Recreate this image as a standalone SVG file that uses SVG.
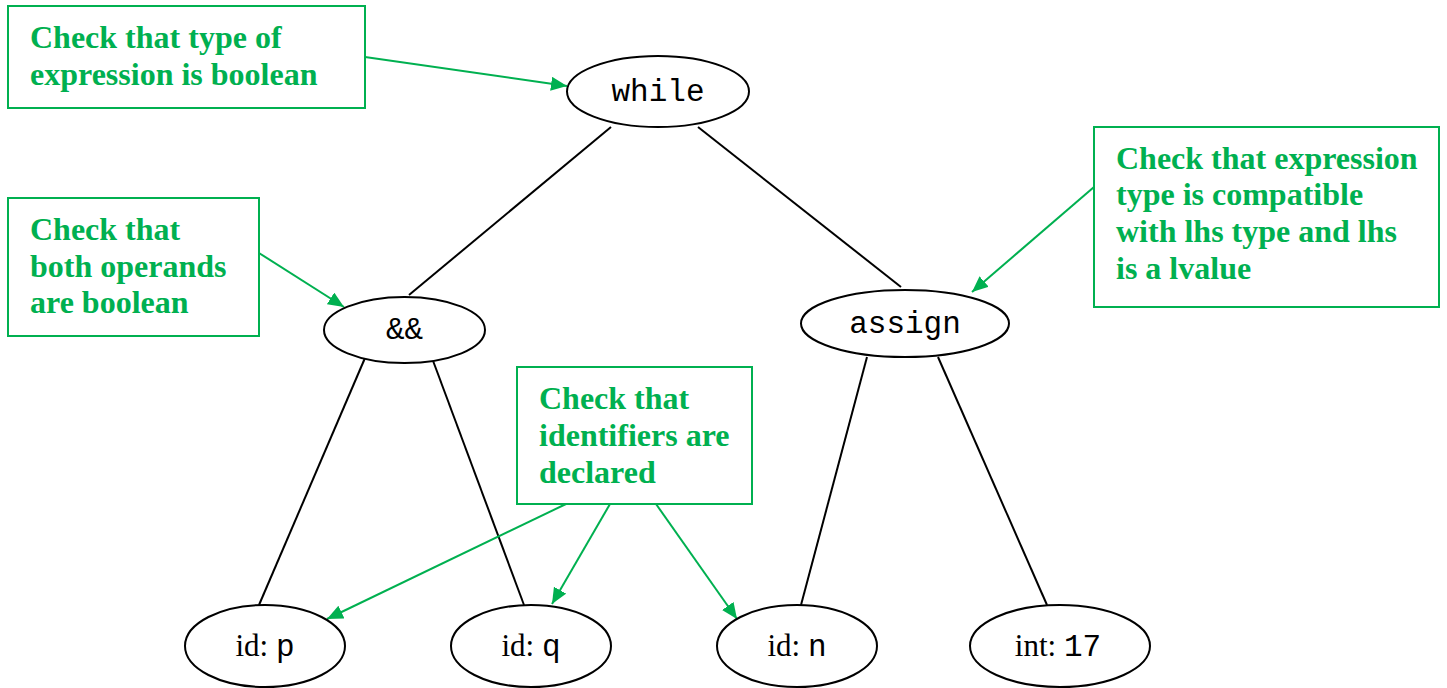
<svg xmlns="http://www.w3.org/2000/svg" width="1447" height="688" viewBox="0 0 1447 688">
<style>
.node ellipse{fill:#fff;stroke:#000;stroke-width:2}
.mono{font-family:"Liberation Mono","Courier New",monospace;font-size:31px;fill:#000}
.serif{font-family:"Liberation Serif","Times New Roman",serif;font-size:31px;fill:#000}
.note rect{fill:#fff;stroke:#00B050;stroke-width:2}
.note text{font-family:"Liberation Serif","Times New Roman",serif;font-size:32px;font-weight:bold;fill:#00B050}
.edge{stroke:#000;stroke-width:2;fill:none}
.arrow{stroke:#00B050;stroke-width:2;fill:none;marker-end:url(#ah)}
</style>
<defs>
<marker id="ah" viewBox="0 0 16 14" refX="16" refY="7" markerWidth="16" markerHeight="14" markerUnits="userSpaceOnUse" orient="auto"><path d="M0,0 L16,7 L0,14 z" fill="#00B050"/></marker>
</defs>
<rect width="1447" height="688" fill="#fff"/>
<g id="connectors">
<line class="edge" x1="611" y1="127" x2="409" y2="295"/>
<line class="edge" x1="698" y1="127" x2="901" y2="287"/>
<line class="edge" x1="365" y1="358" x2="259" y2="605"/>
<line class="edge" x1="432" y1="358" x2="524" y2="605"/>
<line class="edge" x1="867" y1="357" x2="801" y2="605"/>
<line class="edge" x1="938" y1="357" x2="1047" y2="605"/>
<line class="arrow" x1="365" y1="57" x2="567" y2="86"/>
<line class="arrow" x1="259" y1="253" x2="344" y2="307"/>
<line class="arrow" x1="1094" y1="187" x2="972" y2="292"/>
<line class="arrow" x1="566" y1="504" x2="327" y2="619"/>
<line class="arrow" x1="610" y1="504" x2="552" y2="604"/>
<line class="arrow" x1="656" y1="504" x2="737" y2="619"/>
</g>
<g id="n-while" class="node"><ellipse cx="658" cy="91.5" rx="91" ry="35.5"/><text class="mono" x="658" y="101" text-anchor="middle">while</text></g>
<g id="n-and" class="node"><ellipse cx="404.5" cy="330" rx="80.5" ry="33"/><text class="mono" x="404.5" y="339" text-anchor="middle">&amp;&amp;</text></g>
<g id="n-assign" class="node"><ellipse cx="905" cy="323.5" rx="104" ry="33.5"/><text class="mono" x="905" y="333" text-anchor="middle">assign</text></g>
<g id="n-p" class="node"><ellipse cx="265" cy="646" rx="80" ry="41"/><text x="265" y="656" text-anchor="middle"><tspan class="serif">id: </tspan><tspan class="mono">p</tspan></text></g>
<g id="n-q" class="node"><ellipse cx="531" cy="646" rx="80" ry="41"/><text x="531" y="656" text-anchor="middle"><tspan class="serif">id: </tspan><tspan class="mono">q</tspan></text></g>
<g id="n-n" class="node"><ellipse cx="797" cy="646" rx="80" ry="41"/><text x="797" y="656" text-anchor="middle"><tspan class="serif">id: </tspan><tspan class="mono">n</tspan></text></g>
<g id="n-17" class="node"><ellipse cx="1060" cy="646" rx="90" ry="41"/><text x="1058" y="656" text-anchor="middle"><tspan class="serif">int: </tspan><tspan class="mono">17</tspan></text></g>
<g id="note-while" class="note"><rect x="8" y="6" width="357" height="102"/><text x="30" y="48">Check that type of</text><text x="30" y="85">expression is boolean</text></g>
<g id="note-and" class="note"><rect x="8" y="198" width="251" height="138"/><text x="30" y="240">Check that</text><text x="30" y="277">both operands</text><text x="30" y="313">are boolean</text></g>
<g id="note-assign" class="note"><rect x="1094" y="127" width="345" height="180"/><text x="1116" y="169">Check that expression</text><text x="1116" y="205">type is compatible</text><text x="1116" y="242">with lhs type and lhs</text><text x="1116" y="279">is a lvalue</text></g>
<g id="note-id" class="note"><rect x="517" y="367" width="235" height="137"/><text x="539" y="409">Check that</text><text x="539" y="446">identifiers are</text><text x="539" y="483">declared</text></g>
</svg>
